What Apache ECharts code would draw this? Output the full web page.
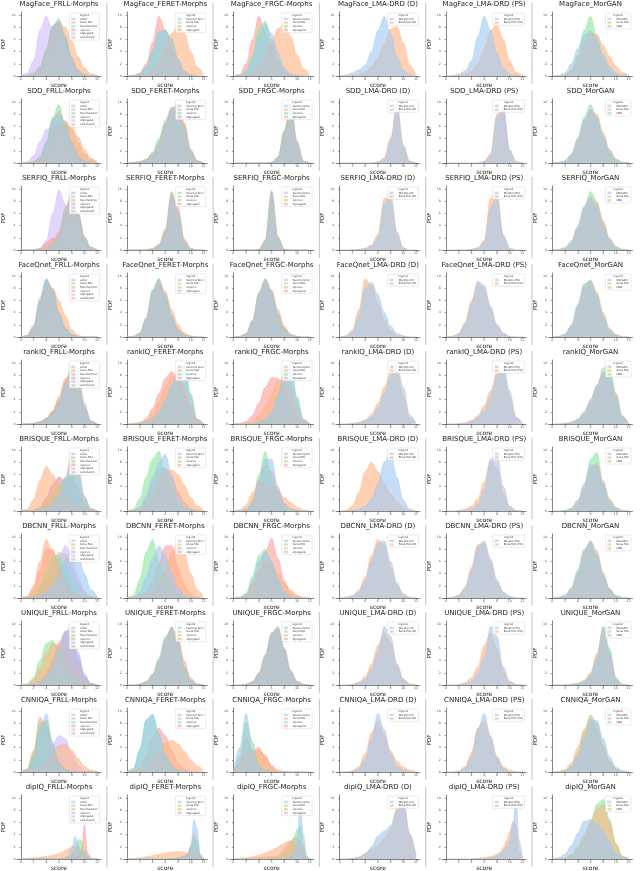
<!DOCTYPE html>
<html><head><meta charset="utf-8">
<script src="https://cdn.jsdelivr.net/npm/echarts/dist/echarts.min.js"></script>
<style>html,body{margin:0;padding:0;background:#fff}#c{width:640px;height:871px}</style>
</head><body><div id="c"></div>
<script>
// ---------- labels ----------
const methods = ['MagFace','SDD','SERFIQ','FaceQnet','rankIQ','BRISQUE','DBCNN','UNIQUE','CNNIQA','dipIQ'];
const datasets = ['FRLL-Morphs','FERET-Morphs','FRGC-Morphs','LMA-DRD (D)','LMA-DRD (PS)','MorGAN'];
const frllLabels = ['amsl','bona fide','facemorpher','opencv','stylegan2','webmorph'];
const feretLabels = ['facemorpher','bona fide','opencv','stylegan2'];
const frgcLabels = ['facemorpher','bona fide','opencv','stylegan2'];
const lmaDLabels = ['Morphs (D)','Bona fide (D)'];
const lmaPSLabels = ['Morphs (PS)','Bona fide (PS)'];
const morganLabels = ['MorGAN','bona fide','LMA'];
const columnLabels = [frllLabels, feretLabels, frgcLabels, lmaDLabels, lmaPSLabels, morganLabels];
const palette = ['161,201,244','255,180,130','141,229,161','255,159,155','208,187,255','222,187,155'];

// ---------- density estimates (relative scale, axis top = 10.5) ----------
const magface = [
 [[0,0.1,0.4,1.5,4.5,8.3,9.0,6.5,3,1,0.3,0.1,0],
  [0,0.1,0.5,1.5,3.8,6.8,8.5,8,5.8,3.2,1.3,0.4,0.1],
  [0,0,0.1,0.6,3.5,8.2,9.4,6.3,2.4,0.6,0.1,0,0],
  [0,0,0.2,1,4,8,8.8,6,2.5,0.8,0.2,0,0],
  [0.1,0.5,2.5,7.5,9.8,7.5,4,2,0.8,0.3,0.1,0,0],
  [0,0,0.2,0.9,3.8,7.8,9,6.6,3,0.9,0.2,0,0]],
 [[0,0.1,0.4,1.5,4.2,7.2,7.6,6,2.8,0.8,0.2,0,0],
  [0,0,0,0.2,0.8,2.2,4.5,7,8.2,7,4,1.5,0.3],
  [0,0.1,0.3,1.2,4,7.3,7.4,6.2,2.8,0.8,0.2,0,0],
  [0,0.1,0.5,2,5.5,9.8,7.5,4,1.5,0.4,0.1,0,0]],
 [[0,0.1,0.6,2.8,6.5,8.5,7,3.8,1.3,0.3,0.1,0,0],
  [0,0,0.1,0.4,1.3,3,5.5,7.8,8.5,6.5,3.5,1.2,0.2],
  [0,0.1,0.8,3.5,7.8,9,6,2.8,0.9,0.2,0,0,0],
  [0,0.3,2,6,9.8,7,3.5,1.2,0.3,0.1,0,0,0]],
 [[0,0.2,0.5,1,1.8,4,7.5,9.8,7,3.2,1,0.2,0],
  [0,0,0.1,0.3,0.7,1.5,3,5.3,7.7,8.1,5.5,1.8,0.2]],
 [[0,0.1,0.3,0.8,2.5,6.5,9.8,7.5,3.8,1.3,0.3,0.1,0],
  [0,0,0.1,0.3,0.8,2,4.5,7.5,8.4,6,2.5,0.6,0.1]],
 [[0,0.1,0.5,2,4.5,6.8,7.4,6,3.5,1.5,0.5,0.1,0],
  [0,0,0.2,1,2.8,5.2,7,6.8,5,3.2,1.6,0.6,0.1],
  [0,0,0.2,1,3.5,7.5,9.8,6.5,3,1,0.3,0.1,0]]
];
const sdd = [
 [[0,0,0.2,1,3.5,7,8,6.5,3.5,1.2,0.3,0,0],
  [0,0,0.1,0.4,1.5,3.5,5.5,6.3,6,4.3,2.2,0.8,0.2],
  [0,0,0.1,0.6,3,7.5,9.6,6,2.5,0.8,0.2,0,0],
  [0,0,0.2,0.8,3.2,7.2,8.5,6.5,3.2,1,0.2,0,0],
  [0,0.2,1.2,3.5,5.5,6,6.3,5,3,1.2,0.3,0.1,0],
  [0,0,0.1,0.5,2,4.5,6.5,7,5.6,3.4,1.5,0.5,0.1]],
 [[0,0.05,0.2,0.5,1.5,3.5,6.5,9,9,6,2,0.3,0],
  [0,0.1,0.3,0.6,1.3,3,6,8.8,9.8,6.5,2,0.3,0],
  [0,0.05,0.2,0.6,1.8,4,7,9.2,8.8,5.5,1.8,0.3,0],
  [0,0.05,0.2,0.5,1.3,3.2,6.2,9,9.5,6.5,2.2,0.4,0]],
 [[0,0,0,0,0,0,0.1,0.8,5,9.8,3.5,0.3,0],
  [0,0,0,0,0,0,0.1,0.9,5.4,9.4,3.2,0.3,0],
  [0,0,0,0,0,0,0.1,1,5.2,9.6,3,0.2,0],
  [0,0,0,0,0,0,0.1,0.8,4.8,9.7,3.6,0.3,0]],
 [[0,0,0,0,0,0,0.1,0.6,3.5,9.8,3,0.3,0],
  [0,0,0,0,0,0,0.2,0.9,4.2,9.2,2.6,0.2,0]],
 [[0,0,0,0,0,0,0.2,1.2,7.5,9.4,2.2,0.2,0],
  [0,0,0,0,0,0,0.3,1.5,8,9,2,0.2,0]],
 [[0,0.1,0.4,1.5,4,7,8.8,7.5,4.5,2,0.6,0.1,0],
  [0,0.1,0.3,1.2,3.5,6.5,8.6,8,5,2.2,0.7,0.1,0],
  [0,0,0.3,1.2,4,7.5,9.6,7.5,4,1.5,0.4,0.1,0]]
];
const serfiq = [
 [[0,0,0,0,0.2,0.8,2.5,6.5,9.2,6,2,0.4,0],
  [0,0,0,0.2,0.5,1.2,3,7,9.4,5.5,1.8,0.3,0],
  [0,0,0,0,0.2,0.7,2.3,6.3,9,6.2,2.2,0.4,0],
  [0,0,0,0.3,1.2,2,1.8,5,9,6,2,0.4,0],
  [0,0,0,0.2,1.5,6,9.8,7.5,3.5,1.2,0.3,0,0],
  [0,0,0,0.1,0.4,1.2,3,6.8,9,5.8,2,0.4,0]],
 [[0,0,0,0,0.1,0.6,2.8,9.2,6.5,1.5,0.2,0,0],
  [0,0,0,0.1,0.3,1,3.5,9.5,6,1.2,0.2,0,0],
  [0,0,0,0,0.2,0.8,3.2,9.6,6,1.3,0.2,0,0],
  [0,0,0,0,0.1,0.5,2.5,8.8,7,1.8,0.3,0,0]],
 [[0,0,0,0,0.05,1.2,9.8,2,0.1,0,0,0,0],
  [0,0,0,0,0.1,1.6,9.4,1.8,0.1,0,0,0,0],
  [0,0,0,0,0.05,1.3,9.6,2.2,0.1,0,0,0,0],
  [0,0,0,0,0.1,1.5,9.5,1.9,0.1,0,0,0,0]],
 [[0,0,0,0.1,0.2,0.6,2,7.5,9.5,3,0.4,0,0],
  [0,0,0,0.1,0.3,0.8,2.6,8.5,8.5,2.5,0.3,0,0]],
 [[0,0,0,0,0.1,0.3,1.2,7,8.8,2.5,0.3,0,0],
  [0,0,0,0,0.1,0.4,1.6,8.5,9.6,2.2,0.2,0,0]],
 [[0,0.1,0.4,1.5,4,7.2,8.8,7,4,1.6,0.5,0.1,0],
  [0,0,0.3,1.2,3.5,6.8,8.5,7.6,4.8,2,0.6,0.1,0],
  [0,0,0.2,1,3.5,7,9.6,8,4.5,1.6,0.4,0.1,0]]
];
const faceqnet = [
 [[0,0.2,1.5,5.5,9.5,8,4,1.5,0.4,0.1,0,0,0],
  [0,0.1,1,4,8,8,6,3.5,1.2,0.3,0,0,0],
  [0,0.2,1.6,6,9.6,7.5,3.5,1.2,0.3,0.1,0,0,0],
  [0,0.2,1.4,5.5,9.2,7.8,3.8,1.4,0.4,0.1,0,0,0],
  [0,0.3,2,6.5,9.4,7,3,1,0.3,0,0,0,0],
  [0,0.2,1.5,5.8,9.3,7.6,3.8,1.4,0.4,0.1,0,0,0]],
 [[0,0.1,0.6,3,7.5,9.6,7,3.5,1.2,0.3,0.1,0,0],
  [0,0.1,0.5,2.5,6.5,8.8,7.5,4.5,2,0.7,0.2,0,0],
  [0,0.1,0.7,3.2,7.8,9.5,6.6,3.2,1.1,0.3,0.1,0,0],
  [0,0.1,0.6,3,7.4,9.4,7,3.6,1.3,0.4,0.1,0,0]],
 [[0,0.1,0.5,2.5,7,9.6,7.5,3.8,1.3,0.3,0.1,0,0],
  [0,0.1,0.4,2.2,6.5,9.2,7.8,4.5,1.8,0.5,0.1,0,0],
  [0,0.1,0.6,2.8,7.3,9.5,7.2,3.5,1.2,0.3,0.1,0,0],
  [0,0.1,0.5,2.6,7.1,9.4,7.4,3.8,1.4,0.4,0.1,0,0]],
 [[0,0.1,0.8,3.5,8,9,7,4,1.8,0.6,0.2,0,0],
  [0,0.2,1.2,4.5,9.5,8.5,5.5,2.8,1.1,0.3,0.1,0,0]],
 [[0,0.1,0.5,2,5.5,9.2,8.5,5,2,0.6,0.1,0,0],
  [0,0.1,0.6,2.4,6,8.8,8,4.8,2,0.6,0.1,0,0]],
 [[0,0.1,0.4,1.8,5,8.5,9.4,7,3.5,1.2,0.3,0,0],
  [0,0.1,0.4,1.6,4.6,8,9.2,7.4,4,1.4,0.4,0.1,0],
  [0,0.1,0.5,2,5.4,8.8,9.2,6.6,3.2,1.1,0.3,0,0]]
];
const rankiq = [
 [[0,0,0.1,0.3,0.8,1.8,3.5,6.5,9.5,7,2.5,0.4,0],
  [0,0,0.1,0.4,1,2.2,4.5,7.5,8.5,6,2.2,0.4,0],
  [0,0,0.1,0.3,0.7,1.6,3.2,6,8.8,8,3,0.5,0],
  [0,0,0.1,0.3,0.9,2,4,7,9,6.5,2.4,0.4,0],
  [0,0,0,0.2,0.5,1.2,2.6,5.5,9,9.4,3.5,0.5,0],
  [0,0,0.1,0.3,0.8,1.8,3.6,6.8,9.2,7,2.6,0.4,0]],
 [[0,0,0.1,0.3,0.8,2,4,6.5,9,9.5,4.5,0.8,0],
  [0,0,0.2,0.6,1.6,3.5,6,7.8,8,6.2,3,0.8,0.1],
  [0,0,0.1,0.3,0.7,1.6,3.5,6,8.5,9.8,5,0.8,0],
  [0,0.1,0.3,0.9,2.5,5,7.5,8.6,7.4,4.5,1.6,0.3,0]],
 [[0,0,0,0.1,0.3,0.8,2,4.5,8.5,9.6,4.5,0.8,0],
  [0,0,0.1,0.4,1.2,2.8,5,7,7.8,6,2.8,0.6,0],
  [0,0,0,0.1,0.3,0.8,2,4.8,9,9.2,4,0.7,0],
  [0,0.1,0.4,1.4,3.5,6,7.6,7.5,5.5,3,1,0.2,0]],
 [[0,0,0.1,0.2,0.5,1.2,2.6,5,8,9.6,6,1.5,0.1],
  [0,0,0.1,0.3,0.7,1.6,3.4,6,8.8,8.6,4.6,1,0.1]],
 [[0,0,0,0.1,0.4,1,2.2,4.5,8,9.7,5.5,1.2,0.1],
  [0,0,0.1,0.2,0.6,1.4,3,5.5,8.5,8.8,4.5,1,0.1]],
 [[0,0,0.1,0.3,0.8,2,4,6.5,8.5,8,4.5,1.2,0.1],
  [0,0,0.1,0.3,0.8,1.8,3.8,6.3,8.2,8.3,5,1.4,0.1],
  [0,0,0,0.2,0.6,1.5,3.2,6,9.2,9.6,5,1,0.1]]
];
const brisque = [
 [[0,0,0,0.1,0.4,1.2,2.8,5.2,8.8,7,2.5,0.4,0],
  [0,0.3,1.8,5,7.3,6,4,2.5,1.5,0.8,0.3,0.1,0],
  [0,0,0.1,0.4,1.2,2.5,4,5.5,5.8,4,1.5,0.3,0],
  [0,0,0.1,0.6,2,4,5.5,5,5.2,3,1,0.2,0],
  [0,0,0.1,0.6,2.2,4.5,5.6,4.8,3.4,2,0.8,0.2,0],
  [0,0,0,0.1,0.4,1.2,2.8,5.5,9.6,7.2,2.2,0.3,0]],
 [[0,0.1,0.6,2.5,5.5,8,9.3,6,2.5,0.8,0.2,0,0],
  [0,0,0.2,0.8,2.2,4.5,6.3,6.8,6,4.2,2.2,0.8,0.2],
  [0,0.3,2,5.5,8.5,9.8,6.5,3,1,0.3,0.1,0,0],
  [0,0.1,0.5,1.8,4.5,6.8,7,5.5,3.2,1.4,0.4,0.1,0]],
 [[0,0,0.2,1.2,4.8,8.5,8.5,4,1.3,0.3,0.1,0,0],
  [0,0.2,1,3,4.5,4.5,3.8,3,2.2,1.4,0.6,0.2,0],
  [0,0,0.2,1.5,6,9.8,5.5,1.8,0.5,0.1,0,0,0],
  [0,0,0.3,1.6,5,7.5,6.5,3.5,1.2,0.3,0.1,0,0]],
 [[0,0,0.1,0.3,0.8,2,4.5,8,9.6,5.5,1.8,0.3,0],
  [0,0.1,0.8,3,6.5,8,6.5,4.5,2.8,1.5,0.6,0.1,0]],
 [[0,0,0,0.1,0.3,1,3.5,8.5,9.5,4,0.8,0.1,0],
  [0,0,0.1,0.3,0.8,2,4.8,8.2,7,2.8,0.6,0.1,0]],
 [[0,0,0.1,0.5,1.8,4.5,7.5,7.5,4.5,1.8,0.5,0.1,0],
  [0,0,0.1,0.4,1.5,4,7,7.8,5,2,0.6,0.1,0],
  [0,0,0,0.2,0.9,3.5,8.5,9.6,4.5,1.2,0.2,0,0]]
];
const dbcnn = [
 [[0,0,0.1,0.3,0.9,2,4,6.3,7.8,7,4,1.4,0.2],
  [0,0.3,2,6,9.6,7.5,4.5,2.2,0.9,0.3,0.1,0,0],
  [0,0.1,0.5,2,4.5,7,7,5,2.8,1.2,0.4,0.1,0],
  [0,0.2,1.4,4.5,8,8,5.5,2.8,1,0.3,0.1,0,0],
  [0,0,0.1,0.5,1.5,3.5,6.5,8.6,7,3.5,1.2,0.2,0],
  [0,0,0.3,1.2,3,5.5,7.5,7.2,4.8,2.4,0.8,0.2,0]],
 [[0,0.1,1,3.5,6.5,8.5,7,4,1.6,0.5,0.1,0,0],
  [0,0,0.1,0.3,0.9,2.2,4.5,7.5,9,7.5,4,1.4,0.2],
  [0,0.4,3,7.5,9.6,6,3.5,1.5,0.5,0.1,0,0,0],
  [0,0,0.2,0.8,2.5,5.5,8.5,8.6,5,2,0.5,0.1,0]],
 [[0,0.1,0.6,2.8,6,7.5,6.2,3.2,1.1,0.3,0,0,0],
  [0,0.1,0.6,2.3,4.6,6,5.5,4,2.5,1.3,0.5,0.1,0],
  [0,0.1,0.8,3.5,7,8,5.5,2.5,0.8,0.2,0,0,0],
  [0,0,0.2,1,3.5,7.5,9.8,6.5,2.8,0.8,0.2,0,0]],
 [[0,0.1,0.3,1,2.8,6,9,9.4,6,2.5,0.7,0.1,0],
  [0,0.1,0.4,1.3,3.5,7,9.6,8.6,5,2,0.5,0.1,0]],
 [[0,0.1,0.4,1.5,4.5,8.5,9.4,6.5,3,1,0.3,0,0],
  [0,0.1,0.5,1.8,5,8.8,9,6,2.6,0.9,0.2,0,0]],
 [[0,0.1,0.4,1.5,4.2,7.8,9.4,7.3,3.8,1.4,0.4,0.1,0],
  [0,0.1,0.3,1.3,3.8,7.4,9.3,7.8,4.2,1.6,0.4,0.1,0],
  [0,0.1,0.5,1.7,4.6,8,9.2,7,3.5,1.3,0.3,0,0]]
];
const unique = [
 [[0,0,0.1,0.4,1.2,3,6,8.8,9,5,1.6,0.3,0],
  [0,0.1,0.8,2.8,5.2,6.8,6.6,5,3,1.4,0.5,0.1,0],
  [0,0.2,1.2,4,6.8,7.3,5.5,3.2,1.5,0.5,0.1,0,0],
  [0,0,0.2,0.6,1.8,4,7,8.8,7.5,3.8,1.2,0.2,0],
  [0,0,0.1,0.3,1,2.6,5.5,8.8,9.6,5.5,1.8,0.3,0],
  [0,0,0.1,0.5,1.5,3.5,6.5,8.6,8.2,4.5,1.4,0.2,0]],
 [[0,0,0.1,0.5,1.6,4,7.5,9.4,7,3,0.8,0.1,0],
  [0,0,0.1,0.4,1.3,3.4,6.5,9,8,4,1.2,0.2,0],
  [0,0,0.2,0.6,1.8,4.5,8,9.3,6.5,2.6,0.7,0.1,0],
  [0,0,0.1,0.5,1.5,3.8,7.3,9.6,7.2,3,0.8,0.1,0]],
 [[0,0,0.1,0.5,1.8,4.8,8.5,9.3,5.8,2.2,0.5,0.1,0],
  [0,0,0.1,0.6,2,5,8.3,9,6,2.4,0.6,0.1,0],
  [0,0,0.1,0.5,1.8,4.6,8.6,9.6,5.6,2,0.5,0.1,0],
  [0,0,0.1,0.5,1.7,4.5,8.2,9.4,6,2.3,0.6,0.1,0]],
 [[0,0,0.1,0.3,0.9,2.5,5.5,9.6,8,3.5,0.9,0.1,0],
  [0,0,0.1,0.5,1.4,3.4,6.5,8.6,7,3.2,1,0.2,0]],
 [[0,0,0,0.2,0.6,1.8,4.5,9.6,8,3,0.6,0.1,0],
  [0,0,0.1,0.4,1.2,3,6.5,8.5,6,2.2,0.5,0.1,0]],
 [[0,0,0,0.1,0.2,0.6,1.6,4.5,9.6,5.5,1,0.1,0],
  [0,0,0,0.1,0.3,0.8,2,5.2,9.2,5,0.9,0.1,0],
  [0,0,0,0.1,0.2,0.5,1.5,4.2,9.4,6,1.2,0.1,0]]
];
const cnniqa = [
 [[0,0.2,1.8,6.5,9.6,5,1.5,0.4,0.1,0,0,0,0],
  [0,0,0.1,0.5,1.5,3,4.4,4.5,3.6,2.2,1,0.3,0.1],
  [0,0.4,3,8,8.2,4,1.2,0.3,0.1,0,0,0,0],
  [0,0.5,3.5,9,7.5,3,1,0.3,0.1,0,0,0,0],
  [0,0,0.1,0.6,2,4.5,6,5.5,3,1,0.2,0,0],
  [0,0.3,2.5,7.5,8.6,4.5,1.4,0.4,0.1,0,0,0,0]],
 [[0,0.5,3.5,8.5,9.5,6.5,3,1.1,0.3,0.1,0,0,0],
  [0,0,0.2,0.8,2,3.6,4.8,5.2,4.6,3.4,2,1,0.3],
  [0,0.6,3.8,8.6,9.3,6.2,2.8,1,0.3,0.1,0,0,0],
  [0,0.1,0.6,2.5,5.5,7.2,6,3.5,1.5,0.5,0.1,0,0]],
 [[0,4,9.6,3.5,1,0.3,0.1,0,0,0,0,0,0],
  [0,0.8,3,2.8,3.6,2.8,1.2,0.3,0.1,0,0,0,0],
  [0,2.5,8.2,5,1.5,0.4,0.1,0,0,0,0,0,0],
  [0,1.5,5.5,3.5,4,2.5,0.8,0.2,0,0,0,0,0]],
 [[0,0,0.1,0.5,2,5.5,9.6,7,3,1,0.3,0.1,0],
  [0,0,0.2,0.9,3,6.5,8.4,6,3.5,1.8,0.8,0.3,0.1]],
 [[0,0,0.1,0.6,2.5,7,9.6,6,2.3,0.6,0.1,0,0],
  [0,0,0.2,0.9,3.2,7.2,8.4,5.6,2.6,0.9,0.3,0.1,0]],
 [[0,0,0.2,0.8,2.5,5.5,8.5,8.5,5.5,2.5,0.8,0.2,0],
  [0,0.1,0.4,1.5,4,7,8.8,7.2,4.2,1.8,0.5,0.1,0],
  [0,0,0.2,1,3.2,6.5,9.4,8,4.5,1.8,0.5,0.1,0]]
];
const dipiq = [
 [[0,0,0,0,0,0,0,0,0,0,0,0,0,0.05,0.2,0.5,1.8,3.7,2.5,0.8,0.2,0,0,0,0],
  [0,0.05,0.1,0.15,0.2,0.25,0.3,0.35,0.4,0.5,0.6,0.7,0.9,1.1,1.4,1.7,2,2,1.5,0.8,0.3,0.1,0,0,0],
  [0,0,0,0,0,0,0,0,0,0,0,0,0,0,0.05,0.2,0.5,1.5,3.2,3,1.2,0.3,0,0,0],
  [0,0,0,0,0,0,0,0,0,0,0,0,0,0,0,0,0.05,0.1,0.3,1.2,5.6,1,0.2,0,0],
  [0,0,0,0,0,0,0,0,0,0,0,0,0,0,0,0.05,0.1,0.2,0.5,1.3,1.5,0.8,0.2,0,0],
  [0,0,0,0,0,0,0,0,0,0,0,0,0.05,0.1,0.2,0.3,0.6,1.5,2,1.6,0.6,0.1,0,0,0]],
 [[0,0,0,0,0,0,0,0,0,0,0,0,0,0,0,0.05,0.1,0.2,0.3,0.6,2,6.5,5,0.8,0],
  [0,0.05,0.1,0.15,0.2,0.3,0.35,0.45,0.55,0.65,0.75,0.85,0.95,1.05,1.15,1.2,1.25,1.2,1.1,1,1.2,1.3,0.8,0.2,0],
  [0,0,0,0,0,0,0,0,0,0,0,0,0,0,0.05,0.1,0.2,0.3,0.5,0.8,2,3.5,2.5,0.5,0],
  [0,0,0,0,0,0,0,0,0,0,0,0,0,0,0.05,0.1,0.2,0.3,0.5,0.9,2.2,4,3,0.5,0]],
 [[0,0,0,0,0,0,0,0,0,0,0,0,0,0,0,0.05,0.1,0.2,0.4,0.8,2.5,9.3,4,0.5,0],
  [0,0.05,0.1,0.15,0.2,0.3,0.4,0.5,0.6,0.8,1,1.2,1.4,1.7,2,2.3,2.6,2.9,3,2.7,2.2,1.8,1,0.2,0],
  [0,0,0,0,0,0,0,0,0,0,0,0,0.05,0.1,0.2,0.4,0.8,1.5,2.5,3.5,4.8,5.5,2.5,0.3,0],
  [0,0,0,0,0,0.05,0.1,0.15,0.2,0.25,0.3,0.35,0.4,0.45,0.5,1,1.6,2.3,2.9,3.4,3.6,2.8,1,0.2,0]],
 [[0,0,0.1,0.3,0.8,2,3.8,4.6,5.5,8,9.3,4,0.5],
  [0,0,0.1,0.3,0.9,1.6,2.2,3.3,5,8.3,9.8,4.2,0.4]],
 [[0,0,0,0,0,0,0,0,0,0,0,0,0,0.1,0.2,0.3,0.5,0.8,1.3,2,3,5.5,9.6,3,0.2],
  [0,0,0,0,0,0,0,0,0.05,0.1,0.15,0.2,0.25,0.3,0.4,0.55,0.8,1.2,1.9,3,4.5,6.2,5.5,1.2,0.1]],
 [[0,0.2,0.8,2.2,4.2,6.2,6.5,5.8,4.5,2.8,1,0.2,0],
  [0,0,0.2,0.8,2,4,6,8.3,8.8,6,2.5,0.5,0],
  [0,0,0.1,0.5,1.5,3.5,6,9,9.8,6.5,2.5,0.4,0]]
];
const rows = [magface, sdd, serfiq, faceqnet, rankiq, brisque, dbcnn, unique, cnniqa, dipiq];

// ---------- layout ----------
const W = 640, rowPitch = 87, colPitch = 106.3;
const gridL0 = 17, gridW = 84, gridTopOff = 12, gridH = 64;
const FONT = 'DejaVu Sans';
const mctx = document.createElement('canvas').getContext('2d');
function textW(s, size) { mctx.font = size + 'px "' + FONT + '"'; return mctx.measureText(s).width; }

const grids = [], xAxes = [], yAxes = [], series = [], legends = [], graphics = [];
const legFont = 2.7, legIcon = 4, legPad = [4.4, 2, 1.2, 2];

rows.forEach((row, r) => {
  const rowTop = r * rowPitch;
  row.forEach((panel, c) => {
    const p = r * 6 + c;
    const left = gridL0 + c * colPitch, top = rowTop + gridTopOff;
    grids.push({left: left, top: top, width: gridW, height: gridH, outerBoundsMode: 'none'});
    xAxes.push({
      gridIndex: p, type: 'value', min: -0.6, max: 12.6, splitNumber: 6,
      name: 'score', nameLocation: 'middle', nameGap: 6.5,
      nameTextStyle: {fontSize: 6, color: '#222', fontFamily: FONT},
      axisLine: {lineStyle: {color: '#333', width: 0.6}},
      axisTick: {length: 1.5, lineStyle: {color: '#333', width: 0.5}},
      axisLabel: {fontSize: 3.3, color: '#555', margin: 1.5, showMinLabel: false, showMaxLabel: false, fontFamily: FONT},
      splitLine: {show: false}
    });
    yAxes.push({
      gridIndex: p, type: 'value', min: 0, max: 10.5, splitNumber: 5,
      name: 'PDF', nameLocation: 'middle', nameGap: 10,
      nameTextStyle: {fontSize: 5.5, color: '#222', fontFamily: FONT},
      axisLine: {show: true, lineStyle: {color: '#333', width: 0.6}},
      axisTick: {show: true, length: 1.5, lineStyle: {color: '#333', width: 0.5}},
      axisLabel: {fontSize: 3.2, color: '#555', margin: 1.5, showMaxLabel: false, fontFamily: FONT},
      splitLine: {show: false}
    });
    const labels = columnLabels[c];
    const names = labels.map(l => l + '@' + p);
    for (let k = panel.length - 1; k >= 0; k--) {
      const arr = panel[k];
      const n = arr.length;
      const fill = 'rgba(' + palette[k] + ',0.62)';
      series.push({
        type: 'line', name: names[k], xAxisIndex: p, yAxisIndex: p,
        data: arr.map((v, i) => [i * 12 / (n - 1), v]),
        smooth: 0.35, smoothMonotone: 'x', symbol: 'none', silent: true, animation: false,
        lineStyle: {width: 0.5, color: 'rgba(' + palette[k] + ',0.85)'},
        itemStyle: {color: fill},
        areaStyle: {color: fill, opacity: 1}
      });
    }
    const rightEdge = left + gridW - 1.5;
    const maxT = Math.max.apply(null, labels.map(l => textW(l, legFont)));
    const boxW = legPad[1] + legPad[3] + legIcon + 5 + maxT;
    legends.push({
      orient: 'vertical', right: W - rightEdge, top: top + 1,
      itemWidth: legIcon, itemHeight: 2.5, itemGap: 0.7, padding: legPad,
      backgroundColor: 'rgba(255,255,255,0.85)', borderColor: '#cccccc', borderWidth: 0.4, borderRadius: 1,
      textStyle: {fontSize: legFont, color: '#333', fontFamily: FONT},
      icon: 'rect', selectedMode: false, data: names,
      formatter: nm => nm.split('@')[0]
    });
    graphics.push({
      type: 'text', x: rightEdge - boxW / 2, y: top + 1.6, z: 100, silent: true,
      style: {text: 'legend', fontSize: legFont, fontFamily: FONT, fill: '#333', align: 'center', textAlign: 'center', verticalAlign: 'top', textVerticalAlign: 'top'}
    });
    graphics.push({
      type: 'text', x: left + gridW / 2, y: rowTop + 0.8, z: 100, silent: true,
      style: {text: methods[r] + '_' + datasets[c], fontSize: 7, fontFamily: FONT, fill: '#222', align: 'center', textAlign: 'center', verticalAlign: 'top', textVerticalAlign: 'top'}
    });
    if (c > 0) {
      graphics.push({
        type: 'line', silent: true, z: 1,
        shape: {x1: c * colPitch + 0.5, y1: rowTop + 3, x2: c * colPitch + 0.5, y2: rowTop + 84},
        style: {stroke: '#aaaaaa', lineWidth: 0.7}
      });
    }
  });
});

const chart = echarts.init(document.getElementById('c'), null, {renderer: 'canvas'});
chart.setOption({
  animation: false,
  backgroundColor: '#ffffff',
  textStyle: {fontFamily: FONT},
  grid: grids, xAxis: xAxes, yAxis: yAxes, series: series, legend: legends,
  graphic: {elements: graphics}
});
</script>
</body></html>
